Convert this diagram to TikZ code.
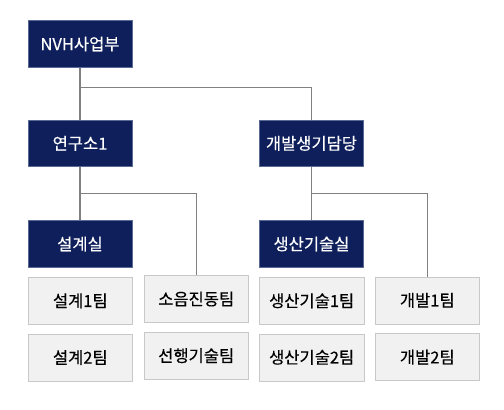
\documentclass[tikz,border=0pt]{standalone}
\usepackage{fontspec}
\setmainfont{Noto Sans CJK KR}[UprightFeatures={FakeBold=0.35}]
\definecolor{navy}{HTML}{0E1F5B}
\definecolor{navyline}{HTML}{5A6A95}
\definecolor{teamfill}{HTML}{F1F1F1}
\definecolor{teamline}{HTML}{C8C8C8}
\definecolor{wire}{HTML}{808080}
\begin{document}
\begin{tikzpicture}[x=1pt, y=-1pt,
  head/.style={draw=navyline, line width=.6pt, fill=navy, text=white, minimum width=104pt, minimum height=46.5pt, inner sep=0pt, font=\fontsize{16.5}{19}\selectfont},
  team/.style={draw=teamline, line width=.6pt, fill=teamfill, text=black, minimum width=104.5pt, minimum height=47pt, inner sep=0pt, font=\fontsize{16.5}{19}\selectfont},
  wire/.style={draw=wire, line width=1.4pt}]
\useasboundingbox (0,0) rectangle (504,410);
% heads
\node[head] (nvh) at (80,44) {NVH사업부};
\node[head] (lab) at (80,143.4) {연구소1};
\node[head] (dev) at (311.5,143.4) {개발생기담당};
\node[head] (design) at (80,244) {설계실};
\node[head] (prod) at (311.5,244) {생산기술실};
% teams
\node[team] (d1) at (80.3,300.8) {설계1팀};
\node[team] (d2) at (80.3,357.5) {설계2팀};
\node[team] (noise) at (196.2,299) {소음진동팀};
\node[team] (adv) at (196.2,355.7) {선행기술팀};
\node[team] (p1) at (311.7,300.8) {생산기술1팀};
\node[team] (p2) at (311.7,357.3) {생산기술2팀};
\node[team] (dv1) at (427.3,300.3) {개발1팀};
\node[team] (dv2) at (427.3,357.2) {개발2팀};
% wires
\coordinate (j1) at (80,87.7);
\coordinate (j2) at (80,193.3);
\coordinate (j3) at (311.5,193.3);
\draw[wire] (nvh.south) -- (lab.north);
\draw[wire] (j1) -| (dev.north);
\draw[wire] (lab.south) -- (design.north);
\draw[wire] (j2) -| (noise.north);
\draw[wire] (dev.south) -- (prod.north);
\draw[wire] (j3) -| (dv1.north);
\end{tikzpicture}
\end{document}
